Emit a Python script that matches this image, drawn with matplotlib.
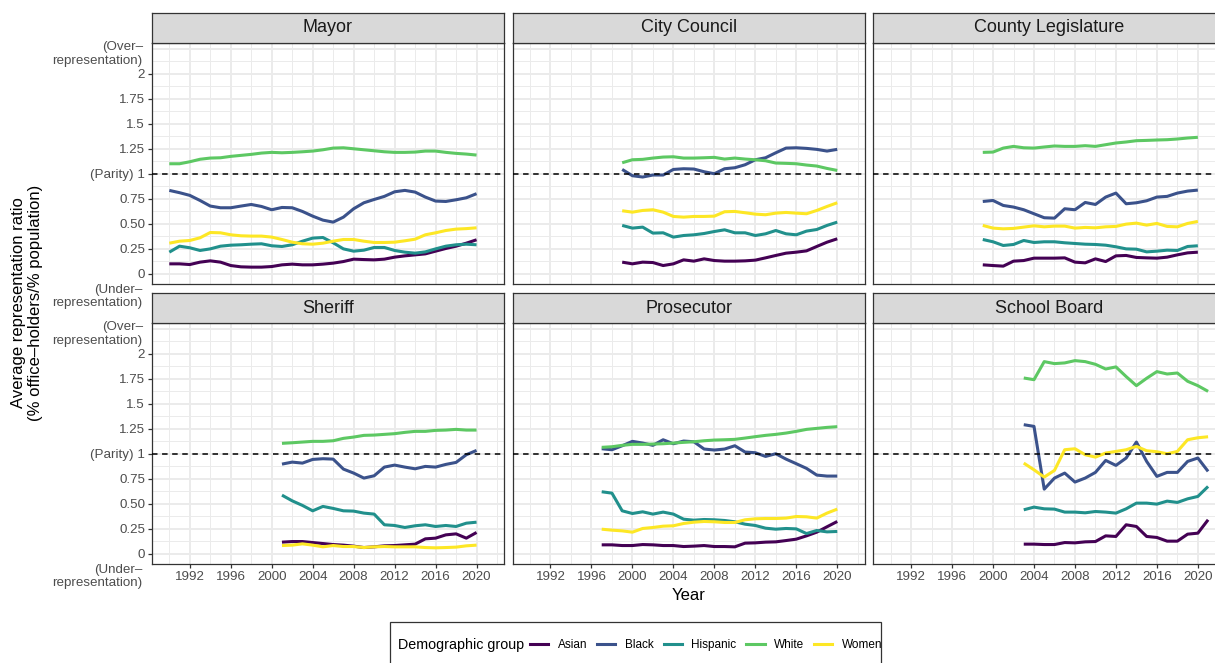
import matplotlib.pyplot as plt
from matplotlib.lines import Line2D
from matplotlib.patches import Rectangle
import numpy as np

plt.rcParams['font.family'] = ['Liberation Sans', 'DejaVu Sans']

groups = ["Asian", "Black", "Hispanic", "White", "Women"]
colors = ["#440154", "#3B528B", "#21908C", "#5DC863", "#FDE725"]
offices = ["Mayor", "City Council", "County Legislature", "Sheriff", "Prosecutor", "School Board"]

# Mayor, 1990-2020
mayor_years = list(range(1990, 2021))
mayor_asian = [0.097, 0.097, 0.090, 0.114, 0.127, 0.114, 0.080, 0.067, 0.064, 0.064, 0.070, 0.087, 0.094, 0.087,
               0.087, 0.094, 0.104, 0.120, 0.144, 0.140, 0.137, 0.144, 0.164, 0.177, 0.187, 0.197, 0.224, 0.251,
               0.274, 0.304, 0.338]
mayor_black = [0.833, 0.810, 0.783, 0.732, 0.676, 0.659, 0.659, 0.676, 0.692, 0.672, 0.639, 0.662, 0.659, 0.622,
               0.575, 0.535, 0.515, 0.565, 0.649, 0.709, 0.742, 0.773, 0.819, 0.833, 0.816, 0.766, 0.726, 0.722,
               0.739, 0.759, 0.800]
mayor_hispanic = [0.214, 0.274, 0.258, 0.231, 0.247, 0.274, 0.284, 0.288, 0.294, 0.298, 0.278, 0.271, 0.288, 0.324,
                  0.355, 0.361, 0.308, 0.247, 0.224, 0.234, 0.261, 0.261, 0.231, 0.214, 0.204, 0.217, 0.247, 0.274,
                  0.288, 0.294, 0.288]
mayor_white = [1.100, 1.100, 1.120, 1.145, 1.157, 1.160, 1.174, 1.184, 1.194, 1.207, 1.214, 1.210, 1.214, 1.220,
               1.227, 1.240, 1.257, 1.260, 1.250, 1.240, 1.230, 1.220, 1.214, 1.214, 1.217, 1.227, 1.227, 1.214,
               1.204, 1.197, 1.187]
mayor_women = [0.304, 0.324, 0.331, 0.358, 0.411, 0.408, 0.388, 0.378, 0.375, 0.375, 0.365, 0.341, 0.314, 0.298,
               0.294, 0.304, 0.324, 0.341, 0.341, 0.324, 0.311, 0.311, 0.314, 0.328, 0.344, 0.388, 0.408, 0.431,
               0.445, 0.450, 0.458]

# City Council, 1999-2020
council_years = list(range(1999, 2021))
council_asian = [0.114, 0.097, 0.114, 0.110, 0.080, 0.097, 0.137, 0.124, 0.147, 0.130, 0.124, 0.124, 0.127, 0.134,
                 0.157, 0.181, 0.204, 0.214, 0.227, 0.271, 0.314, 0.348]
council_black = [1.043, 0.980, 0.967, 0.987, 0.987, 1.043, 1.050, 1.047, 1.020, 1.000, 1.050, 1.060, 1.090, 1.140,
                 1.160, 1.210, 1.257, 1.260, 1.254, 1.244, 1.227, 1.244]
council_hispanic = [0.482, 0.455, 0.465, 0.405, 0.408, 0.365, 0.381, 0.388, 0.401, 0.421, 0.438, 0.408, 0.408, 0.381,
                    0.398, 0.431, 0.398, 0.388, 0.425, 0.441, 0.482, 0.515]
council_white = [1.110, 1.140, 1.144, 1.157, 1.167, 1.170, 1.157, 1.157, 1.160, 1.164, 1.147, 1.157, 1.147, 1.140,
                 1.130, 1.107, 1.104, 1.100, 1.087, 1.077, 1.053, 1.033]
council_women = [0.629, 0.615, 0.632, 0.639, 0.615, 0.572, 0.565, 0.572, 0.572, 0.575, 0.619, 0.622, 0.609, 0.595,
                 0.589, 0.605, 0.612, 0.605, 0.599, 0.632, 0.672, 0.709]

# County Legislature, 1999-2020
county_years = list(range(1999, 2021))
county_asian = [0.087, 0.080, 0.074, 0.124, 0.130, 0.154, 0.154, 0.154, 0.157, 0.114, 0.107, 0.147, 0.120, 0.177,
                0.181, 0.161, 0.157, 0.154, 0.164, 0.187, 0.207, 0.214]
county_black = [0.722, 0.732, 0.682, 0.666, 0.639, 0.599, 0.559, 0.555, 0.649, 0.639, 0.712, 0.692, 0.766, 0.806,
                0.699, 0.709, 0.729, 0.766, 0.773, 0.806, 0.826, 0.836]
county_hispanic = [0.341, 0.318, 0.281, 0.291, 0.331, 0.311, 0.318, 0.318, 0.308, 0.301, 0.294, 0.291, 0.284, 0.268,
                   0.247, 0.244, 0.217, 0.224, 0.234, 0.231, 0.271, 0.278]
county_white = [1.214, 1.217, 1.257, 1.274, 1.260, 1.257, 1.268, 1.278, 1.274, 1.274, 1.281, 1.274, 1.291, 1.308,
                1.318, 1.331, 1.334, 1.338, 1.341, 1.348, 1.358, 1.365]
county_women = [0.482, 0.455, 0.448, 0.452, 0.465, 0.478, 0.468, 0.475, 0.475, 0.455, 0.462, 0.458, 0.468, 0.472,
                0.495, 0.505, 0.485, 0.502, 0.472, 0.468, 0.502, 0.522]

# Sheriff, 2001-2020
sheriff_years = list(range(2001, 2021))
sheriff_asian = [0.114, 0.120, 0.120, 0.110, 0.100, 0.090, 0.084, 0.074, 0.060, 0.067, 0.077, 0.080, 0.087, 0.094,
                 0.147, 0.154, 0.187, 0.197, 0.154, 0.211]
sheriff_black = [0.896, 0.916, 0.906, 0.943, 0.950, 0.946, 0.846, 0.806, 0.756, 0.779, 0.866, 0.886, 0.866, 0.849,
                 0.873, 0.866, 0.893, 0.913, 0.990, 1.033]
sheriff_hispanic = [0.585, 0.528, 0.482, 0.428, 0.472, 0.452, 0.428, 0.425, 0.405, 0.395, 0.288, 0.281, 0.261, 0.278,
                    0.288, 0.271, 0.281, 0.271, 0.304, 0.314]
sheriff_white = [1.104, 1.110, 1.117, 1.124, 1.124, 1.130, 1.154, 1.167, 1.184, 1.187, 1.194, 1.201, 1.214, 1.224,
                 1.224, 1.234, 1.237, 1.244, 1.237, 1.237]
sheriff_women = [0.080, 0.084, 0.097, 0.084, 0.067, 0.080, 0.070, 0.070, 0.060, 0.067, 0.070, 0.067, 0.067, 0.067,
                 0.060, 0.057, 0.060, 0.064, 0.077, 0.084]

# Prosecutor, 1997-2020
prosecutor_years = list(range(1997, 2021))
prosecutor_asian = [0.087, 0.087, 0.080, 0.080, 0.090, 0.087, 0.080, 0.080, 0.070, 0.074, 0.080, 0.070, 0.070, 0.067,
                    0.104, 0.107, 0.114, 0.117, 0.130, 0.144, 0.177, 0.214, 0.268, 0.321]
prosecutor_black = [1.050, 1.040, 1.080, 1.124, 1.107, 1.084, 1.140, 1.100, 1.127, 1.120, 1.047, 1.037, 1.047, 1.080,
                    1.017, 1.010, 0.973, 1.000, 0.946, 0.900, 0.853, 0.786, 0.776, 0.776]
prosecutor_hispanic = [0.619, 0.605, 0.428, 0.401, 0.418, 0.395, 0.415, 0.395, 0.344, 0.334, 0.341, 0.338, 0.331,
                       0.318, 0.294, 0.281, 0.254, 0.244, 0.251, 0.247, 0.200, 0.231, 0.217, 0.221]
prosecutor_white = [1.064, 1.070, 1.084, 1.094, 1.094, 1.097, 1.100, 1.107, 1.114, 1.120, 1.130, 1.137, 1.140, 1.144,
                    1.157, 1.171, 1.184, 1.194, 1.207, 1.224, 1.244, 1.254, 1.264, 1.271]
prosecutor_women = [0.244, 0.234, 0.227, 0.214, 0.251, 0.261, 0.274, 0.278, 0.301, 0.314, 0.321, 0.318, 0.311, 0.311,
                    0.338, 0.348, 0.351, 0.351, 0.355, 0.371, 0.368, 0.355, 0.405, 0.445]

# School Board, 2003-2021
school_years = list(range(2003, 2022))
school_asian = [0.094, 0.094, 0.090, 0.090, 0.110, 0.107, 0.117, 0.120, 0.177, 0.171, 0.288, 0.271, 0.171, 0.161,
                0.124, 0.124, 0.194, 0.204, 0.338]
school_black = [1.291, 1.274, 0.645, 0.756, 0.806, 0.716, 0.756, 0.813, 0.933, 0.883, 0.957, 1.117, 0.923, 0.773,
                0.813, 0.813, 0.923, 0.957, 0.823]
school_hispanic = [0.438, 0.465, 0.448, 0.445, 0.415, 0.415, 0.408, 0.421, 0.415, 0.405, 0.448, 0.505, 0.505, 0.495,
                   0.525, 0.512, 0.548, 0.572, 0.672]
school_white = [1.759, 1.742, 1.923, 1.903, 1.910, 1.933, 1.923, 1.896, 1.849, 1.870, 1.773, 1.682, 1.756, 1.823,
                1.799, 1.809, 1.726, 1.682, 1.625]
school_women = [0.906, 0.839, 0.766, 0.833, 1.040, 1.050, 0.990, 0.966, 1.007, 1.023, 1.040, 1.074, 1.030, 1.020,
                1.000, 1.023, 1.140, 1.160, 1.170]

panels = {
    "Mayor": (mayor_years, [mayor_asian, mayor_black, mayor_hispanic, mayor_white, mayor_women]),
    "City Council": (council_years, [council_asian, council_black, council_hispanic, council_white, council_women]),
    "County Legislature": (county_years, [county_asian, county_black, county_hispanic, county_white, county_women]),
    "Sheriff": (sheriff_years, [sheriff_asian, sheriff_black, sheriff_hispanic, sheriff_white, sheriff_women]),
    "Prosecutor": (prosecutor_years, [prosecutor_asian, prosecutor_black, prosecutor_hispanic, prosecutor_white,
                                      prosecutor_women]),
    "School Board": (school_years, [school_asian, school_black, school_hispanic, school_white, school_women]),
}

y_ticks = [0, 0.25, 0.5, 0.75, 1, 1.25, 1.5, 1.75, 2]
y_labels = ["0", "0.25", "0.50", "0.75", "(Parity) 1", "1.25", "1.5", "1.75", "2"]
x_ticks = list(range(1992, 2021, 4))

W, H = 1215, 663
fig = plt.figure(figsize=(W / 100, H / 100), dpi=100)


def rect(x0, y0, w, h):
    return [x0 / W, 1 - (y0 + h) / H, w / W, h / H]


col_left = [152, 512.7, 873.3]
row_top = [43, 323]
pw, ph, sh = 352, 241, 30
border = "#333333"
grid_c = "#EBEBEB"

for i, office in enumerate(offices):
    r, c = divmod(i, 3)
    ax = fig.add_axes(rect(col_left[c], row_top[r], pw, ph))
    years, series = panels[office]
    ax.set_xlim(1988.31, 2022.68)
    ax.set_ylim(-0.105, 2.31)
    ax.set_xticks(x_ticks)
    ax.set_xticks(list(range(1990, 2023, 4)), minor=True)
    ax.set_yticks(y_ticks)
    ax.set_yticks(np.arange(0.125, 2.2, 0.25), minor=True)
    ax.grid(which='major', color=grid_c, lw=1.4, zorder=0)
    ax.grid(which='minor', color=grid_c, lw=0.7, zorder=0)
    ax.axhline(2.25, color=grid_c, lw=1.4, zorder=0)
    ax.set_axisbelow(True)
    for s in ax.spines.values():
        s.set_color(border)
        s.set_linewidth(0.9)
    ax.tick_params(which='minor', length=0)
    ax.tick_params(which='major', length=2.75, width=0.9, color=border, labelcolor="#4D4D4D",
                   labelsize=9.6, pad=2.2)
    if c == 0:
        ax.set_yticklabels(y_labels)
        ax.annotate("(Over–\nrepresentation)", xy=(0, 2.2), xycoords=('axes fraction', 'data'),
                    xytext=(-6.6, 0), textcoords='offset points', ha='right', va='center',
                    fontsize=9.6, color="#4D4D4D", linespacing=1.2, annotation_clip=False)
        ax.annotate("(Under–\nrepresentation)", xy=(0, -0.23), xycoords=('axes fraction', 'data'),
                    xytext=(-6.6, 0), textcoords='offset points', ha='right', va='center',
                    fontsize=9.6, color="#4D4D4D", linespacing=1.2, annotation_clip=False)
    else:
        ax.tick_params(axis='y', left=False, labelleft=False)
    if r == 0:
        ax.tick_params(axis='x', bottom=False, labelbottom=False)

    for g, vals, col in zip(groups, series, colors):
        ax.plot(years, vals, color=col, lw=2.2, solid_capstyle='butt', zorder=3)
    ax.axhline(1, color="black", lw=1.1, ls=(0, (3.6, 3.0)), zorder=4)

    sax = fig.add_axes(rect(col_left[c], row_top[r] - sh, pw, sh))
    sax.set_facecolor("#D9D9D9")
    sax.set_xticks([])
    sax.set_yticks([])
    for s in sax.spines.values():
        s.set_color(border)
        s.set_linewidth(0.9)
    sax.text(0.5, 0.5, office, ha='center', va='center', fontsize=13, color="#1A1A1A",
             transform=sax.transAxes)

fig.text(688.7 / W, 1 - 596 / H, "Year", ha='center', va='center', fontsize=12)
fig.text(27 / W, 1 - 303 / H, "Average representation ratio\n(% office–holders/% population)",
         ha='center', va='center', rotation=90, fontsize=12, linespacing=1.1)

# legend
fig.patches.append(Rectangle((390 / W, -0.02), (881 - 390) / W, 1 - 622 / H + 0.02,
                             transform=fig.transFigure, fill=False, edgecolor=border, lw=0.9))
fig.text(398 / W, 1 - 645 / H, "Demographic group", ha='left', va='center', fontsize=10.3)
handles = [Line2D([], [], color=col, lw=2.2) for col in colors]
fig.legend(handles, groups, loc='center left', bbox_to_anchor=(530 / W, 1 - 645 / H), ncol=5,
           frameon=False, fontsize=8.5, handlelength=1.55, handletextpad=0.79, columnspacing=0.85,
           borderpad=0, borderaxespad=0)

fig.savefig("out.png", dpi=100)
